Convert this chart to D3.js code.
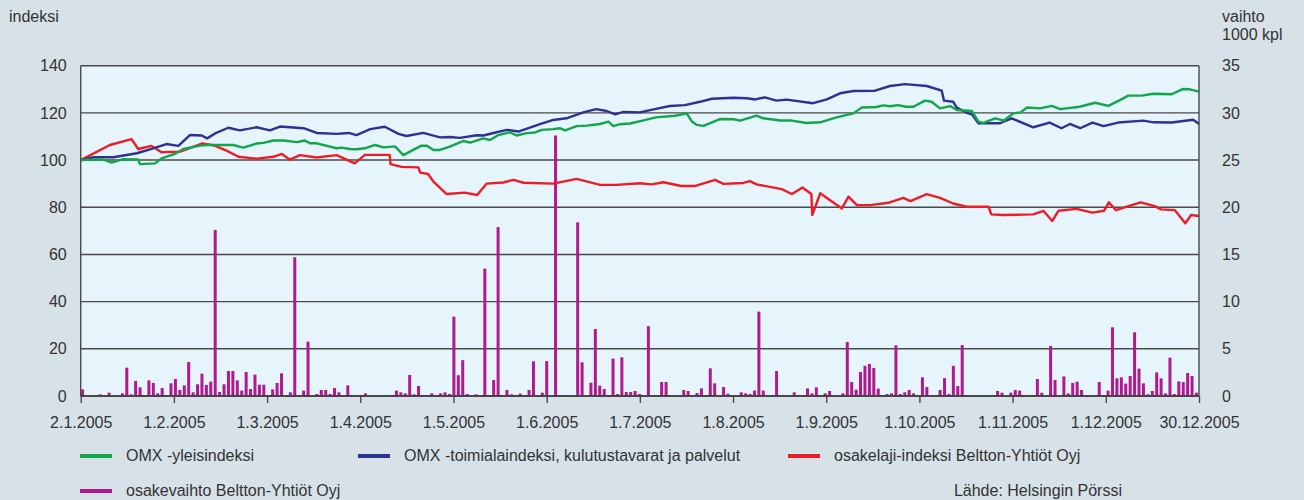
<!DOCTYPE html>
<html><head><meta charset="utf-8">
<script src="https://cdn.jsdelivr.net/npm/d3@7"></script>
<style>
html,body{margin:0;padding:0;background:#d6e1e8;}
svg{display:block;font-family:"Liberation Sans",Arial,sans-serif;}
</style></head>
<body>
<svg id="c" width="1304" height="500"></svg>
<script>
// ---- DATA ----
const tickLabels = ["2.1.2005","1.2.2005","1.3.2005","1.4.2005","1.5.2005","1.6.2005","1.7.2005","1.8.2005","1.9.2005","1.10.2005","1.11.2005","1.12.2005","30.12.2005"];
const leftTicks = [0,20,40,60,80,100,120,140];
const rightTicks = [0,5,10,15,20,25,30,35];

// daily trading volume, 1000 shares (one value per trading day)
const volume = [
0.7,0,0,0,0.18,0,0.35,0,0,0.28,
3.0,0.18,1.6,0.92,0.1,1.66,1.38,0.28,0.85,0,
1.34,1.8,0.64,1.13,3.6,0.39,1.24,2.37,1.17,1.52,
17.6,0.42,1.24,2.65,2.65,1.66,0.57,2.54,0.74,2.26,
1.2,1.2,0.1,0.7,1.38,2.4,0,0.39,14.7,0.1,
0.57,5.76,0,0.21,0.64,0.64,0.21,0.85,0.39,0,
1.13,0.1,0,0.1,0.28,0,0,0,0,0,
0.1,0.57,0.39,0.28,2.23,0.18,1.06,0.1,0.1,0.28,
0,0.28,0.39,0.21,8.4,2.2,3.8,0.21,0,0.18,
0.1,13.5,0.07,1.7,17.9,0,0.64,0.18,0.1,0.25,
0,0.64,3.67,0,0.35,3.7,0,27.6,0,0.07,
0,0,18.4,3.57,0,1.41,7.1,1.1,0.74,0.1,
3.96,0.21,4.1,0.42,0.42,0.53,0.21,0,7.4,0,
0,1.48,1.48,0,0,0,0.64,0.53,0,0.32,
0.81,0,2.93,1.34,0,0.95,0.25,0,0,0.39,
0.28,0.21,0.57,8.94,0.57,0,0.1,2.65,0,0,
0,0.39,0,0.07,0.81,0.28,0.92,0,0.28,0.53,
0,0,0.28,5.72,1.48,0.67,2.54,3.2,3.4,2.97,
0.78,0,0.21,0.28,5.37,0.21,0.39,0.64,0.28,0,
1.98,0.95,0,0,0.64,1.9,0.21,3.2,1.06,5.4,
0,0,0,0,0,0,0,0.53,0.35,0,
0.35,0.64,0.57,0.1,0,0,1.8,0.35,0,5.3,
1.7,0,2.08,0.28,1.38,1.52,0.64,0,0,0,
1.48,0,0.57,7.28,1.87,1.98,1.31,2.12,6.75,2.9,
1.34,0.18,0.53,2.5,1.87,0.28,4.06,0.21,1.55,1.48,
2.44,2.12,0.35
];

// index series: [trading day, index value]
const omxGeneral = [[0,100],[5,100.3],[7,98.9],[9.6,100.4],[13,100.3],[13.4,98.3],[16.8,98.6],[18.3,100.7],[21.3,102.6],[23.2,104.7],[27,106.1],[28.5,106.4],[34.5,106.4],[36.8,105.3],[39.8,107],[41.3,107.3],[43.6,108.3],[45.9,108.3],[48.9,107.6],[50.7,108.3],[51.9,107.1],[53.4,107.1],[57.9,105],[59,105.3],[60.9,104.7],[62.4,104.6],[64.3,105],[66.6,106.4],[68.5,105.4],[71.1,105.8],[73,102.1],[74.9,104],[77.1,106.1],[78.3,106.1],[79.8,104.3],[81.3,104.3],[83.5,105.7],[86.6,108.1],[88.1,107.4],[91.1,109.2],[92.6,108.5],[94.5,110.6],[97.1,111.8],[98.6,110.4],[100.9,111.4],[102.8,111.7],[104.3,112.8],[106.9,113.1],[108.4,113.5],[109.6,112.6],[112.2,114.4],[114.5,114.6],[117.5,115.3],[119.4,116.3],[120.5,114.4],[122,115.2],[124.3,115.5],[127.1,116.7],[130.1,118.1],[134.5,118.8],[137.1,119.8],[138.3,116.3],[139.4,114.9],[140.9,114.5],[144.6,117.4],[147.7,117.3],[149.2,116.7],[152.9,118.8],[154.4,117.7],[158.2,116.8],[160.5,116.8],[164.2,115.7],[167.3,116],[171,118.1],[174.8,119.8],[176.7,122.3],[180,122.5],[181.5,123.2],[183.1,122.8],[184.9,123.3],[186.7,122.6],[188.4,122.6],[191,125.2],[192.5,124.7],[194.4,121.9],[196.7,122.9],[198.2,121.2],[201.6,120.8],[203.1,116.3],[204.2,115.8],[206.9,117.7],[208.8,116.7],[211,119.8],[212.6,120.2],[214.1,122.3],[217,121.9],[219.7,123],[221.6,121.6],[226,122.6],[229.5,124.3],[232.5,123],[235.1,125.4],[237,127.3],[240,127.3],[242.7,128.1],[246.8,127.9],[249.3,130.1],[250.9,130],[253,129]];

const omxConsumer = [[0,100],[2.9,101.2],[7.4,101.2],[12.7,102.9],[16.4,105],[19.4,106.8],[22.1,106],[24.7,110.6],[27.4,110.4],[28.6,109.2],[30.4,111.3],[33.4,113.7],[36,112.6],[39.8,113.9],[42.8,112.6],[45.1,114.2],[50.4,113.5],[53.4,111.5],[57.9,111.1],[60.6,111.5],[62.4,110.6],[65.5,113.1],[68.8,114.1],[71.9,111.1],[73.7,110.2],[77.5,111.5],[81.3,109.6],[83.5,109.8],[85.8,109.4],[89.6,110.5],[91.1,110.4],[94.1,111.8],[96.4,112.8],[99,112.1],[103.9,115.2],[106.9,117],[109.9,117.7],[113.7,120.2],[116.6,121.6],[119,120.8],[120.9,119.4],[122.8,120.4],[126.5,120.2],[129.6,121.5],[133.3,122.9],[136.7,123.3],[140.1,124.7],[142.8,126],[147.7,126.4],[150.7,126.2],[152.6,125.7],[154.8,126.6],[157.4,125.2],[159.7,125.6],[165.7,124.1],[168.8,125.7],[171.8,128.3],[174.8,129.3],[179.7,129.4],[183.1,131.4],[186.5,132.2],[191.4,131.4],[194.8,129.4],[195.3,125.2],[197.4,124.7],[198.2,122.2],[200.8,119.8],[201.6,119.4],[203.1,115.6],[208,115.6],[210.6,117.7],[215.5,113.9],[219.2,115.9],[221.9,113.5],[223.8,115.3],[226.1,113.5],[228.9,115.9],[231.4,114.4],[234.7,115.9],[240.4,116.7],[242.7,116],[246.8,115.9],[251.7,117.1],[253,115.3]];

const belttonIndex = [[0,100],[6.6,106.4],[11.5,108.9],[13,104.7],[16,106],[18.3,103.3],[22.5,103.6],[27.4,107],[30,106.3],[33,104],[35.7,101.4],[39.8,100.6],[43.6,101.4],[45.5,102.6],[47.3,100.2],[49.6,102.1],[53.4,101.1],[57.9,102.1],[62,98.6],[64.3,102.2],[69.9,102.2],[70.1,98.3],[72.6,97.1],[76.4,96.9],[76.8,94.7],[78.6,94.1],[79.8,90.9],[82.8,85.6],[86.9,86.2],[89.7,85.2],[91.8,90],[95.6,90.5],[97.9,91.6],[100.2,90.4],[106.9,90],[112.2,92],[117.5,89.5],[121.2,89.5],[126.5,90.2],[129.2,89.7],[131.8,90.6],[135.9,89],[138.9,89],[143.5,91.6],[145.4,89.9],[149.9,90.3],[151.4,91.1],[152.9,89.7],[158.6,87.7],[160.9,85.6],[163.3,88.4],[165.3,85.6],[165.5,76.7],[167.3,85.9],[172.2,79.5],[173.7,84.5],[175.6,80.9],[178.6,80.9],[182.7,81.9],[186.1,84],[187.7,82.6],[191.4,85.6],[194.4,84],[197.4,81.6],[200.4,80.2],[205.4,80.2],[206,77],[208.8,76.7],[215.5,77],[217.8,78.5],[219.8,74.2],[221.2,78.5],[225.3,79.3],[228.9,77.7],[231.5,78.5],[232.6,82.1],[234.2,78.8],[236.5,80.2],[239.8,82.1],[243,80.5],[244.4,79.1],[247.5,78.8],[249.9,73.2],[251.2,76.7],[253,76.3]];

const legendLabels = ["OMX -yleisindeksi","OMX -toimialaindeksi, kulutustavarat ja palvelut","osakelaji-indeksi Beltton-Yhtiöt Oyj","osakevaihto Beltton-Yhtiöt Oyj"];
const sourceText = "Lähde: Helsingin Pörssi";

// ---- CHART ----
const svg = d3.select("#c");
const L = 80.7, R = 1199, T = 65.7, B = 396;
const txt = "#333";
const cGreen = "#12a64b", cBlue = "#2e3192", cRed = "#ee1c25", cMag = "#b01a8e";

svg.append("rect").attr("width",1304).attr("height",500).attr("fill","#d6e1e8");
svg.append("rect").attr("x",L).attr("y",T).attr("width",R-L).attr("height",B-T).attr("fill","#e6f4fb");

const x = d3.scaleLinear().domain([0,253]).range([L,R]);
const xTick = d3.scalePoint().domain(tickLabels).range([L,R]);
const yL = d3.scaleLinear().domain([0,140]).range([B,T]);
const yR = d3.scaleLinear().domain([0,35]).range([B,T]);

// grid
svg.append("g").selectAll("line").data(leftTicks).join("line")
  .attr("x1",L).attr("x2",R).attr("y1",d=>yL(d)).attr("y2",d=>yL(d))
  .attr("stroke","#4a4a4a").attr("stroke-width",1.4);

// bars
svg.append("g").selectAll("rect").data(volume).join("rect")
  .attr("x",(d,i)=>x(i)+0.4).attr("width",3)
  .attr("y",d=>yR(d)).attr("height",d=>yR(0)-yR(d))
  .attr("fill",cMag);

// lines
const line = d3.line().x(d=>x(d[0])).y(d=>yL(d[1]));
[[belttonIndex,cRed],[omxConsumer,cBlue],[omxGeneral,cGreen]].forEach(([s,c])=>{
  svg.append("path").datum(s).attr("d",line).attr("fill","none")
    .attr("stroke",c).attr("stroke-width",2.4).attr("stroke-linejoin","round");
});

// borders
svg.append("line").attr("x1",L).attr("x2",L).attr("y1",T).attr("y2",B).attr("stroke","#4a4a4a").attr("stroke-width",1.4);
svg.append("line").attr("x1",R).attr("x2",R).attr("y1",T).attr("y2",B).attr("stroke","#4a4a4a").attr("stroke-width",1.4);

// axes
const fs = "16px";
const gl = svg.append("g").attr("transform",`translate(${L},0)`)
  .call(d3.axisLeft(yL).tickValues(leftTicks).tickSize(0).tickPadding(14));
const gr = svg.append("g").attr("transform",`translate(${R},0)`)
  .call(d3.axisRight(yR).tickValues(rightTicks).tickSize(0).tickPadding(23));
const gb = svg.append("g").attr("transform",`translate(0,${B})`)
  .call(d3.axisBottom(xTick).tickSize(7).tickPadding(14));
[gl,gr,gb].forEach(g=>{
  g.select(".domain").remove();
  g.selectAll("text").attr("fill",txt).style("font-size",fs).style("font-family","Liberation Sans, Arial, sans-serif");
});
gb.selectAll(".tick line").attr("stroke","#4a4a4a").attr("stroke-width",1.4);
svg.append("line").attr("x1",L).attr("x2",R).attr("y1",B).attr("y2",B).attr("stroke","#3a3a3a").attr("stroke-width",1.6);

// axis titles
svg.append("text").attr("x",9).attr("y",22).text("indeksi").attr("fill",txt).style("font-size",fs);
svg.append("text").attr("x",1222).attr("y",22).text("vaihto").attr("fill",txt).style("font-size",fs);
svg.append("text").attr("x",1222).attr("y",40).text("1000 kpl").attr("fill",txt).style("font-size",fs);

// legend
const leg = [
  {x:80,y:456,c:cGreen,t:legendLabels[0]},
  {x:358,y:456,c:cBlue,t:legendLabels[1]},
  {x:788,y:456,c:cRed,t:legendLabels[2]},
  {x:80,y:491,c:cMag,t:legendLabels[3]}
];
const lg = svg.append("g").selectAll("g").data(leg).join("g");
lg.append("rect").attr("x",d=>d.x).attr("y",d=>d.y-2).attr("width",32).attr("height",4).attr("fill",d=>d.c);
lg.append("text").attr("x",d=>d.x+46).attr("y",d=>d.y+5).text(d=>d.t).attr("fill",txt).style("font-size",fs);
svg.append("text").attr("x",1122).attr("y",496).attr("text-anchor","end").text(sourceText).attr("fill",txt).style("font-size",fs);
</script>
</body></html>
